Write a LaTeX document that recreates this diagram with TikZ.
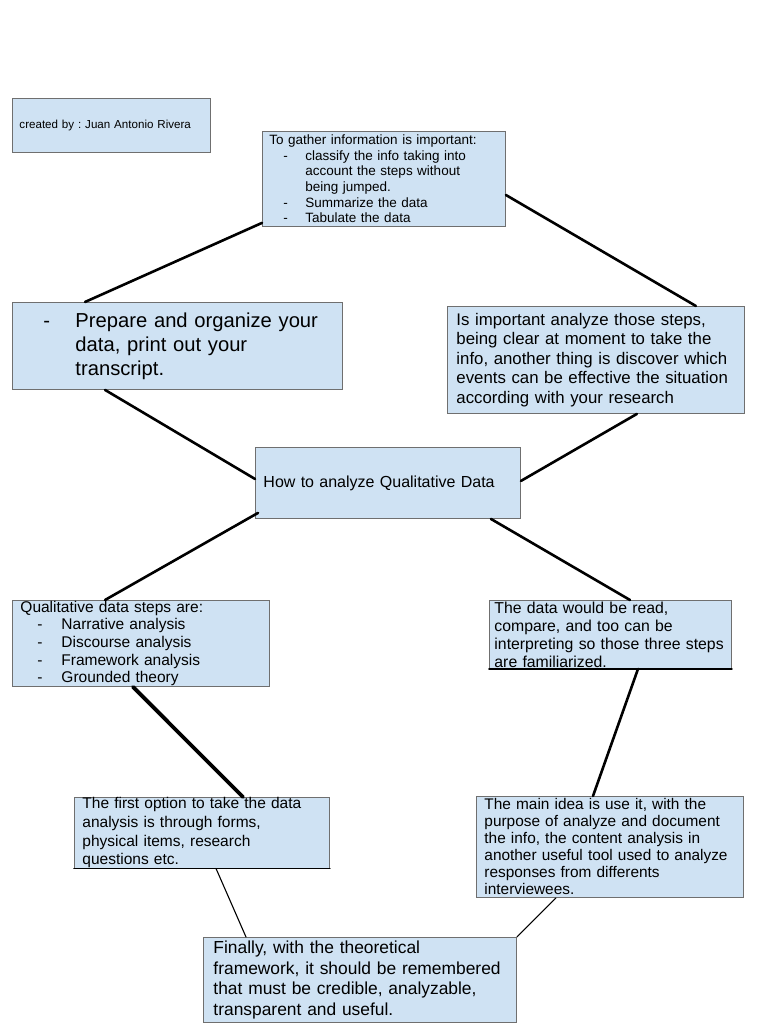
\documentclass[tikz,border=0pt]{standalone}
\usepackage{fontspec}
\setmainfont{Liberation Sans}
\usetikzlibrary{positioning}
\definecolor{boxblue}{HTML}{CFE2F3}
\definecolor{boxline}{HTML}{6F6F6F}
\newcommand{\listdash}[2]{\hspace*{#1pt}\makebox[24pt][l]{-}#2}
\newcommand{\fsz}[2]{\fontsize{#1}{#2}\selectfont}
\frenchspacing

\begin{document}
\begin{tikzpicture}[
x=1pt, y=-1pt,
line cap=round,
box/.style={draw=boxline, line width=0.9pt, fill=boxblue, align=left,
  inner xsep=7pt, inner ysep=0pt, anchor=north west},
link/.style={line width=2.6pt},
thinlink/.style={line width=1.1pt},
underline/.style={line width=1.6pt},
]
\useasboundingbox (0,0) rectangle (768,1024);

%% boxes
% top row
\node[box, text width=184pt, minimum width=198pt, minimum height=54pt, font=\fsz{11.6}{13}] (author) at (12,98)
  {created by : Juan Antonio Rivera};
\node[box, text width=229pt, minimum width=243pt, minimum height=95pt, font=\fsz{13.5}{15.6}] (gather) at (262,131)
  {To gather information is important:\\
   \hspace*{14pt}\makebox[22pt][l]{-}classify the info taking into\\
   \hspace*{36pt}account the steps without\\
   \hspace*{36pt}being jumped.\\
   \hspace*{14pt}\makebox[22pt][l]{-}Summarize the data\\
   \hspace*{14pt}\makebox[22pt][l]{-}Tabulate the data};
% second row
\node[box, text width=316pt, minimum width=330pt, minimum height=87pt, font=\fsz{20.2}{24}] (prep) at (12,302)
  {\hspace*{24pt}\makebox[32pt][l]{-}Prepare and organize your\\
   \hspace*{56pt}data, print out your\\
   \hspace*{56pt}transcript.};
\node[box, inner xsep=9pt, text width=279pt, minimum width=297pt, minimum height=107pt, font=\fsz{16.8}{19.5}] (steps) at (447,306)
  {Is important analyze those steps,\\
   being clear at moment to take the\\
   info, another thing is discover which\\
   events can be effective the situation\\
   according with your research};
% centre
\node[box, inner xsep=8pt, text width=249pt, minimum width=265pt, minimum height=71pt, font=\fsz{16}{18}] (centre) at (255,447)
  {How to analyze Qualitative Data};
% third row
\node[box, inner xsep=8pt, text width=241pt, minimum width=257pt, minimum height=86pt, font=\fsz{15.5}{17.7}] (kinds) at (12,600)
  {Qualitative data steps are:\\
   \listdash{17}{Narrative analysis}\\
   \listdash{17}{Discourse analysis}\\
   \listdash{17}{Framework analysis}\\
   \listdash{17}{Grounded theory}};
\node[box, inner xsep=5pt, text width=232pt, minimum width=242pt, minimum height=68pt, font=\fsz{15.8}{18}] (read) at (489,600)
  {The data would be read,\\
   compare, and too can be\\
   interpreting so those three steps\\
   are familiarized.};
% fourth row
\node[box, inner xsep=8pt, text width=239pt, minimum width=255pt, minimum height=70pt, font=\fsz{15.5}{18.7}] (forms) at (74,797)
  {The first option to take the data\\
   analysis is through forms,\\
   physical items, research\\
   questions etc.};
\node[box, inner xsep=8pt, text width=251pt, minimum width=267pt, minimum height=101pt, font=\fsz{15.4}{17}] (content) at (476,796)
  {The main idea is use it, with the\\
   purpose of analyze and document\\
   the info, the content analysis in\\
   another useful tool used to analyze\\
   responses from differents\\
   interviewees.};
% bottom
\node[box, inner xsep=10pt, text width=293pt, minimum width=313pt, minimum height=85pt, font=\fsz{17.4}{20.5}] (final) at (203,937)
  {Finally, with the theoretical\\
   framework, it should be remembered\\
   that must be credible, analyzable,\\
   transparent and useful.};

% dark lower edges
\draw[underline] (read.south west) -- (read.south east);
\draw[underline] (forms.south west) -- (forms.south east);

%% connectors
\draw[link] ([xshift=73pt]prep.north west) -- ([yshift=4pt]gather.south west);
\draw[link] ([yshift=-64pt]gather.north east) -- ([xshift=-49pt]steps.north east);
\draw[link] ([xshift=93pt]prep.south west) -- ([yshift=4pt]centre.west);
\draw[link] ([xshift=-108pt]steps.south east) -- ([yshift=2pt]centre.east);
\draw[link] ([xshift=3pt,yshift=6pt]centre.south west) -- ([xshift=93pt]kinds.north west);
\draw[link] ([xshift=-30pt]centre.south east) -- ([xshift=141pt]read.north west);
\draw[line width=3.8pt] ([xshift=121pt]kinds.south west) -- ([xshift=169pt]forms.north west);
\draw[link] ([xshift=149pt]read.south west) -- ([xshift=117pt]content.north west);
\draw[thinlink] ([xshift=142pt]forms.south west) -- ([xshift=43pt]final.north west);
\draw[thinlink] ([xshift=80pt]content.south west) -- (final.north east);
\end{tikzpicture}
\end{document}
